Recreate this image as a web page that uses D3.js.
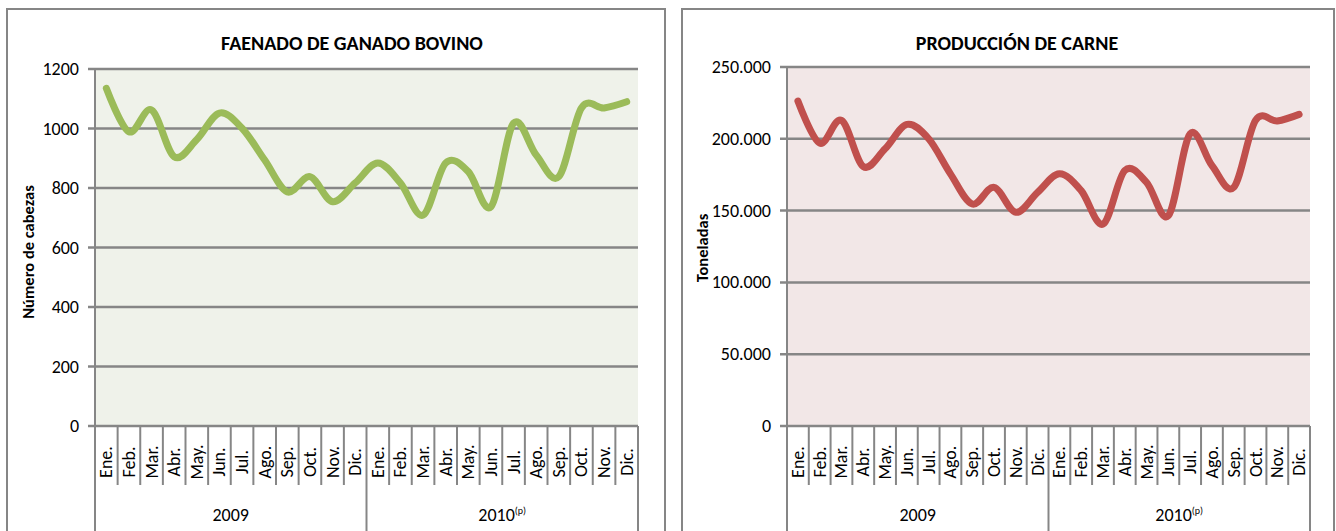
<!DOCTYPE html>
<html>
<head>
<meta charset="utf-8">
<script src="https://cdn.jsdelivr.net/npm/d3@7"></script>
<style>
  body { margin: 0; background: #fff; }
  svg text { font-family: Carlito, "Liberation Sans Narrow", "Open Sans", sans-serif; fill: #000; }
</style>
</head>
<body>
<div id="chart"></div>
<script>
// data
var months = ["Ene.", "Feb.", "Mar.", "Abr.", "May.", "Jun.", "Jul.", "Ago.", "Sep.", "Oct.", "Nov.", "Dic."];
var years = ["2009", "2010"];
var faenado = [1135, 989, 1062, 905, 963, 1052, 1001, 894, 787, 838, 754, 817,
               884, 817, 709, 884, 855, 737, 1018, 911, 838, 1069, 1069, 1090];
var carne = [226300, 197000, 212800, 180700, 193000, 210000, 200000, 175600, 154600, 166200, 148800, 162700,
             175600, 163900, 140600, 177900, 169700, 146400, 203500, 181400, 166200, 212800, 212400, 217000];
var faenadoTicks = [0, 200, 400, 600, 800, 1000, 1200];
var carneTicks = [0, 50000, 100000, 150000, 200000, 250000];

var categories = [];
years.forEach(function(y){ months.forEach(function(m){ categories.push(y + "-" + m); }); });

var svg = d3.select("#chart").append("svg")
    .attr("width", 1336)
    .attr("height", 531);

var grey = "#868686";

function drawChart(opt) {
    var g = svg.append("g");

    // outer frame
    g.append("rect")
        .attr("x", opt.frame[0]).attr("y", 9)
        .attr("width", opt.frame[1] - opt.frame[0]).attr("height", 560)
        .attr("fill", "#fff").attr("stroke", grey).attr("stroke-width", 2);

    var x = d3.scaleBand().domain(categories).range([opt.left, opt.right]);
    var y = d3.scaleLinear().domain([0, opt.max]).range([426, opt.top]);

    // plot background
    g.append("rect")
        .attr("x", opt.left).attr("y", opt.top)
        .attr("width", opt.right - opt.left).attr("height", 426 - opt.top)
        .attr("fill", opt.bg);

    // gridlines + y ticks
    g.selectAll(".grid").data(opt.ticks).enter().append("line")
        .attr("x1", opt.left - 7).attr("x2", opt.right)
        .attr("y1", function(d){ return y(d); }).attr("y2", function(d){ return y(d); })
        .attr("stroke", grey).attr("stroke-width", 2.5);

    g.selectAll(".ylab").data(opt.ticks).enter().append("text")
        .attr("x", opt.left - 16)
        .attr("y", function(d){ return y(d) + 6; })
        .attr("text-anchor", "end")
        .style("font-size", "18px")
        .text(opt.fmt);

    // y axis line
    g.append("line")
        .attr("x1", opt.left).attr("x2", opt.left)
        .attr("y1", opt.top).attr("y2", 531)
        .attr("stroke", grey).attr("stroke-width", 2);

    // category separators under the axis
    var bounds = d3.range(1, categories.length + 1);
    g.selectAll(".sep").data(bounds).enter().append("line")
        .attr("x1", function(d){ return opt.left + d * x.bandwidth(); })
        .attr("x2", function(d){ return opt.left + d * x.bandwidth(); })
        .attr("y1", 426)
        .attr("y2", function(d){ return d % 12 == 0 ? 531 : 485; })
        .attr("stroke", grey).attr("stroke-width", 2);

    // month labels
    g.selectAll(".mlab").data(categories).enter().append("text")
        .attr("transform", function(d){
            return "translate(" + (x(d) + x.bandwidth() / 2 + 6) + ",462) rotate(-90)";
        })
        .attr("text-anchor", "middle")
        .style("font-size", "18px")
        .text(function(d){ return d.split("-")[1]; });

    // year labels
    years.forEach(function(yr, i) {
        var cx = opt.left + (i * 12 + 6) * x.bandwidth();
        var t = g.append("text")
            .attr("x", cx).attr("y", 521)
            .attr("text-anchor", "middle")
            .style("font-size", "18px");
        t.append("tspan").text(yr);
        if (i == 1) {
            t.append("tspan").attr("dy", -7).style("font-size", "10px").text("(p)");
        }
    });

    // series
    var line = d3.line()
        .x(function(d, i){ return x(categories[i]) + x.bandwidth() / 2; })
        .y(function(d){ return y(d); })
        .curve(d3.curveCardinal.tension(0));

    g.append("path")
        .datum(opt.values)
        .attr("d", line)
        .attr("fill", "none")
        .attr("stroke", opt.color)
        .attr("stroke-width", 7)
        .attr("stroke-linecap", "round")
        .attr("stroke-linejoin", "round");

    // title
    g.append("text")
        .attr("x", opt.titleX).attr("y", 50)
        .attr("text-anchor", "middle")
        .style("font-size", "20px").style("font-weight", "bold")
        .text(opt.title);

    // y axis title
    g.append("text")
        .attr("transform", "translate(" + opt.yTitleX + "," + opt.yTitleY + ") rotate(-90)")
        .attr("text-anchor", "middle")
        .style("font-size", "16.5px").style("font-weight", "bold")
        .text(opt.yTitle);
}

drawChart({
    frame: [7, 665], left: 95, right: 638, top: 69, max: 1200,
    ticks: faenadoTicks, fmt: function(d){ return d; },
    values: faenado, color: "#9BBB59", bg: "#EFF2EA",
    title: "FAENADO DE GANADO BOVINO", titleX: 352,
    yTitle: "Número de cabezas", yTitleX: 34, yTitleY: 252
});

var fmtDot = function(d){ return d3.format(",")(d).replace(/,/g, "."); };
drawChart({
    frame: [682, 1334], left: 787, right: 1310, top: 67, max: 250000,
    ticks: carneTicks, fmt: fmtDot,
    values: carne, color: "#C0504D", bg: "#F2E7E7",
    title: "PRODUCCIÓN DE CARNE", titleX: 1017,
    yTitle: "Toneladas", yTitleX: 708, yTitleY: 248
});
</script>
</body>
</html>
